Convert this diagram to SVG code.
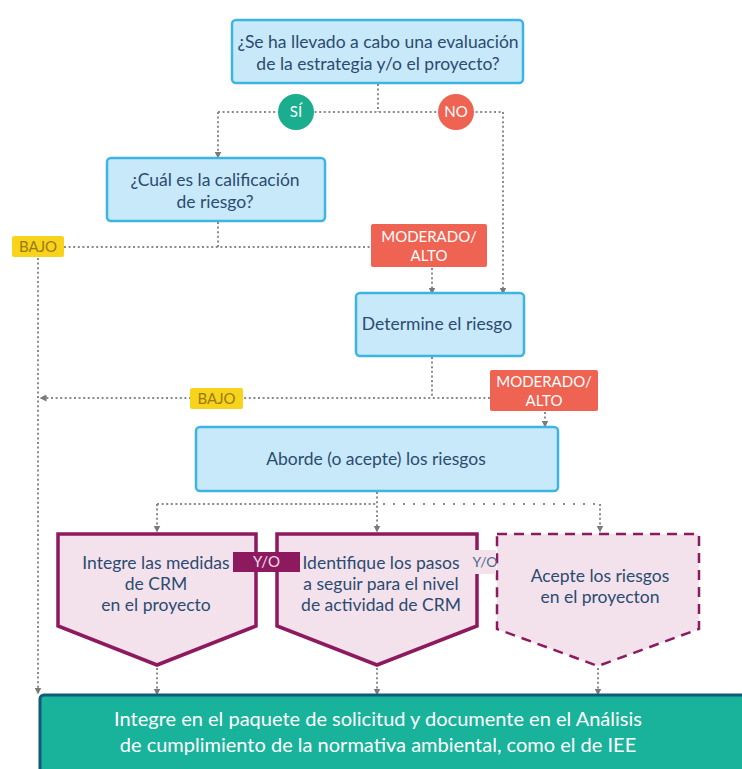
<svg xmlns="http://www.w3.org/2000/svg" width="742" height="769" viewBox="0 0 742 769">
  <defs>
    <marker id="arr" viewBox="0 0 10 10" refX="5" refY="5" markerWidth="7" markerHeight="7" orient="auto" markerUnits="userSpaceOnUse">
      <path d="M0,0 L10,5 L0,10 Z" fill="#7a7a7a"/>
    </marker>
    <style>
      .q { fill: #c8e9f9; stroke: #3db5e3; stroke-width: 2.5; }
      .qt { font-family: Lato, "Liberation Sans", sans-serif; font-size: 17.5px; fill: #2b4b72; text-anchor: middle; }
      .dot { fill: none; stroke: #8a8a8a; stroke-width: 2; stroke-dasharray: 2 2.6; }
      .dots { fill: none; stroke: #8a8a8a; stroke-width: 2; stroke-dasharray: 2 8; }
      .red { fill: #ee6352; }
      .yel { fill: #f8d31b; }
      .lbl { font-family: Lato, "Liberation Sans", sans-serif; font-size: 15px; text-anchor: middle; }
      .pent { fill: #f3e2eb; stroke: #8d1a5f; stroke-width: 3.5; stroke-linejoin: miter; }
      .pentd { fill: #f3e2eb; stroke: #8d1a5f; stroke-width: 2.5; stroke-dasharray: 10 7; }
    </style>
  </defs>

  <!-- connectors -->
  <g id="connectors">
    <!-- question 1 split -->
    <path class="dot" d="M378,84 V112"/>
    <path class="dot" d="M218,112 H503"/>
    <path class="dot" d="M218,112 V155" marker-end="url(#arr)"/>
    <path class="dot" d="M503,112 V291" marker-end="url(#arr)"/>
    <!-- risk rating split -->
    <path class="dot" d="M218,222 V247"/>
    <path class="dot" d="M64,247 H371"/>
    <path class="dot" d="M38,258 V691" marker-end="url(#arr)"/>
    <path class="dot" d="M432,268 V291" marker-end="url(#arr)"/>
    <!-- determine risk split -->
    <path class="dot" d="M432,357 V398"/>
    <path class="dot" d="M490,398 H43" marker-end="url(#arr)"/>
    <path class="dot" d="M545,412 V424" marker-end="url(#arr)"/>
    <!-- address risks split -->
    <path class="dot" d="M377,492 V529" marker-end="url(#arr)"/>
    <path class="dot" d="M157,504 H377"/>
    <path class="dot" d="M157,504 V529" marker-end="url(#arr)"/>
    <path class="dots" d="M383,504 H600"/>
    <path class="dot" d="M600,504 V529" marker-end="url(#arr)"/>
    <!-- into final box -->
    <path class="dot" d="M157,668 V692" marker-end="url(#arr)"/>
    <path class="dot" d="M377,668 V692" marker-end="url(#arr)"/>
    <path class="dot" d="M598,668 V692" marker-end="url(#arr)"/>
  </g>

  <g id="q-evaluacion">
    <rect class="q" x="232" y="20" width="291" height="63" rx="4"/>
    <text class="qt" x="378" y="48">¿Se ha llevado a cabo una evaluación</text>
    <text class="qt" x="378" y="70">de la estrategia y/o el proyecto?</text>
  </g>

  <g id="si">
    <circle cx="296" cy="112" r="18" fill="#1aad8e"/>
    <text class="lbl" x="296" y="117" fill="#ffffff">SÍ</text>
  </g>
  <g id="no">
    <circle cx="456" cy="112" r="18" class="red"/>
    <text class="lbl" x="456" y="117" fill="#ffffff">NO</text>
  </g>

  <g id="q-calificacion">
    <rect class="q" x="107" y="158" width="218" height="63" rx="4"/>
    <text class="qt" x="215" y="186">¿Cuál es la calificación</text>
    <text class="qt" x="215" y="208">de riesgo?</text>
  </g>

  <g id="bajo-1">
    <rect class="yel" x="12" y="236" width="52" height="21" rx="2"/>
    <text class="lbl" x="38" y="252" fill="#9a7a14">BAJO</text>
  </g>
  <g id="moderado-1">
    <rect class="red" x="371" y="224" width="116" height="43" rx="2"/>
    <text class="lbl" x="429" y="242" fill="#ffffff">MODERADO/</text>
    <text class="lbl" x="429" y="261" fill="#ffffff">ALTO</text>
  </g>

  <g id="determine">
    <rect class="q" x="356" y="293" width="168" height="63" rx="4"/>
    <text class="qt" x="437" y="330">Determine el riesgo</text>
  </g>

  <g id="bajo-2">
    <rect class="yel" x="190" y="388" width="53" height="21" rx="2"/>
    <text class="lbl" x="216.5" y="404" fill="#9a7a14">BAJO</text>
  </g>
  <g id="moderado-2">
    <rect class="red" x="490" y="370" width="108" height="41" rx="2"/>
    <text class="lbl" x="544" y="387" fill="#ffffff">MODERADO/</text>
    <text class="lbl" x="544" y="406" fill="#ffffff">ALTO</text>
  </g>

  <g id="aborde">
    <rect class="q" x="196" y="427" width="362" height="64" rx="4"/>
    <text class="qt" x="376" y="465">Aborde (o acepte) los riesgos</text>
  </g>

  <g id="integre-medidas">
    <path class="pent" d="M58,534 H256 V626 L157,665 L58,626 Z"/>
    <text class="qt" x="156" y="569">Integre las medidas</text>
    <text class="qt" x="156" y="590">de CRM</text>
    <text class="qt" x="156" y="611">en el proyecto</text>
  </g>

  <g id="identifique-pasos">
    <path class="pent" d="M277,534 H477 V626 L377,665 L277,626 Z"/>
    <text class="qt" x="381" y="569">Identifique los pasos</text>
    <text class="qt" x="381" y="590">a seguir para el nivel</text>
    <text class="qt" x="381" y="611">de actividad de CRM</text>
  </g>

  <g id="acepte-riesgos">
    <path class="pentd" d="M497,534 H699 V629 L598,666 L497,629 Z"/>
    <text class="qt" x="600" y="582">Acepte los riesgos</text>
    <text class="qt" x="600" y="603">en el proyecton</text>
  </g>

  <g id="yo-1">
    <rect x="233" y="552" width="67" height="20" fill="#8d1a5f"/>
    <text class="lbl" x="266.5" y="567" fill="#f3dce8">Y/O</text>
  </g>
  <g id="yo-2">
    <rect x="473" y="550" width="23" height="24" fill="#f3e2eb"/>
    <text class="lbl" x="485" y="567" fill="#4f6a8a" style="font-size:14px">Y/O</text>
  </g>

  <g id="paquete">
    <rect x="40" y="695" width="712" height="90" rx="4" fill="#18b39a" stroke="#0f5b78" stroke-width="3"/>
    <text class="qt" x="378" y="726" style="font-size:20px; fill:#ffffff">Integre en el paquete de solicitud y documente  en el Análisis</text>
    <text class="qt" x="378" y="752" style="font-size:20px; fill:#ffffff">de cumplimiento de la normativa ambiental, como el de IEE</text>
  </g>
</svg>
